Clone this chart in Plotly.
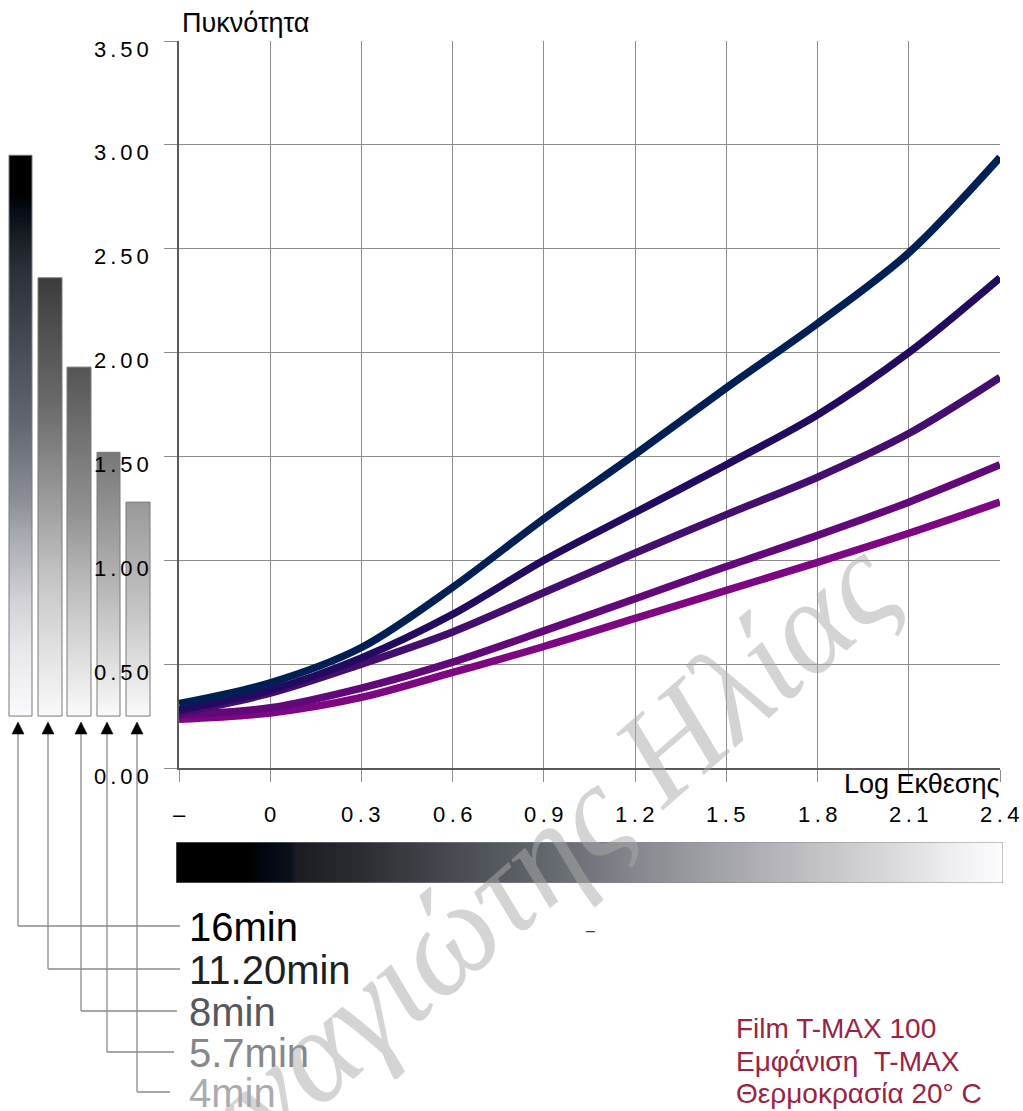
import numpy as np
import plotly.graph_objects as go

# ---------------- data ----------------
log_exposure = [-0.3, 0.0, 0.3, 0.6, 0.9, 1.2, 1.5, 1.8, 2.1, 2.4]
density_16min = [0.31, 0.41, 0.58, 0.87, 1.20, 1.51, 1.83, 2.14, 2.48, 2.94]
density_11_20min = [0.28, 0.375, 0.53, 0.74, 1.00, 1.23, 1.46, 1.70, 2.00, 2.36]
density_8min = [0.265, 0.36, 0.50, 0.655, 0.845, 1.035, 1.22, 1.40, 1.61, 1.88]
density_5_7min = [0.255, 0.29, 0.385, 0.51, 0.66, 0.815, 0.97, 1.12, 1.28, 1.46]
density_4min = [0.235, 0.265, 0.34, 0.46, 0.585, 0.72, 0.855, 0.99, 1.13, 1.28]

times = ["16min", "11.20min", "8min", "5.7min", "4min"]
bar_top = [2.95, 2.36, 1.93, 1.52, 1.28]
bar_bottom = 0.25

x_tick_vals = [-0.3, 0.0, 0.3, 0.6, 0.9, 1.2, 1.5, 1.8, 2.1, 2.4]
x_tick_text = ["–", "0", "0.3", "0.6", "0.9", "1.2", "1.5", "1.8", "2.1", "2.4"]
y_tick_vals = [0.0, 0.5, 1.0, 1.5, 2.0, 2.5, 3.0, 3.5]
y_tick_text = ["0.00", "0.50", "1.00", "1.50", "2.00", "2.50", "3.00", "3.50"]

# ---------------- styling ----------------
W, H = 1023, 1111


def px(x):
    return x / W


def py(y):
    return 1 - y / H


curve_colors = ["#001f55", "#220a60", "#430e6e", "#63087a", "#7e0683"]
label_colors = ["#000000", "#1e1e24", "#55585e", "#85878c", "#a9abaf"]
series = [density_16min, density_11_20min, density_8min, density_5_7min, density_4min]

bar_x = [(9, 32), (38, 62), (67, 91), (97, 120), (126, 150)]
bar_scales = [
    [[0, "#fafafc"], [0.12, "#e8e8ec"], [0.21, "#d0d0d5"], [0.32, "#a8abb2"],
     [0.39, "#8a8d95"], [0.53, "#5f646e"], [0.69, "#40454e"], [0.8, "#2a2e36"],
     [0.86, "#181b22"], [0.9, "#060c16"], [0.93, "#000000"], [1, "#000000"]],
    [[0, "#fafafa"], [0.3, "#c8c8c8"], [0.5, "#9a9a9a"], [0.7, "#6c6c6c"],
     [0.9, "#4c4c4c"], [1, "#3c3c3c"]],
    [[0, "#fafafa"], [0.35, "#c0c0c0"], [0.6, "#8f8f8f"], [1, "#555555"]],
    [[0, "#fafafa"], [0.5, "#b5b5b5"], [1, "#777777"]],
    [[0, "#fafafa"], [0.5, "#c4c4c4"], [1, "#999999"]],
]
arrow_x = [18, 48, 81, 107, 137]
label_line_y = [926, 969, 1011, 1052, 1092]
label_line_end = [180, 180, 177, 174, 170]

grad_scale = [
    [0, "#000000"], [0.0895, "#000000"], [0.104, "#020610"], [0.138, "#0a1019"],
    [0.145, "#1b1c20"], [0.224, "#2b2d32"], [0.334, "#474a51"], [0.444, "#62666d"],
    [0.513, "#767980"], [0.554, "#84878d"], [0.634, "#9c9da3"], [0.755, "#bcbcc1"],
    [0.875, "#dcdce0"], [0.936, "#eeeef1"], [1, "#fdfdfe"],
]

fig = go.Figure()

# curves (draw lowest first)
for i in reversed(range(5)):
    fig.add_trace(go.Scatter(
        x=log_exposure, y=series[i], mode="lines", name=times[i],
        line=dict(color=curve_colors[i], width=7.5, shape="spline", smoothing=0.9),
        xaxis="x", yaxis="y", hoverinfo="skip", cliponaxis=False,
    ))

# gradient density bars on left
N = 200
for i in range(5):
    edges = np.linspace(bar_bottom, bar_top[i], N + 1)
    frac = (np.arange(N) + 0.5) / N
    fig.add_trace(go.Heatmap(
        x=list(bar_x[i]), y=edges, z=[[f] for f in frac],
        colorscale=bar_scales[i], zmin=0, zmax=1, showscale=False,
        xaxis="x2", yaxis="y2", hoverinfo="skip",
    ))

# horizontal exposure gradient
M = 300
gx = np.linspace(0, 1, M + 1)
fig.add_trace(go.Heatmap(
    x=gx, y=[0, 1], z=[list((gx[:-1] + gx[1:]) / 2)],
    colorscale=grad_scale, zmin=0, zmax=1, showscale=False,
    xaxis="x3", yaxis="y3", hoverinfo="skip",
))

shapes = []
for i in range(5):
    shapes.append(dict(type="rect", xref="x2", yref="y2",
                       x0=bar_x[i][0], x1=bar_x[i][1], y0=bar_bottom, y1=bar_top[i],
                       line=dict(color="#7a7a7a", width=1)))
shapes.append(dict(type="rect", xref="x3", yref="y3", x0=0, x1=1, y0=0, y1=1,
                   line=dict(color="#8a8a8a", width=1)))

# connectors + arrowheads
for i in range(5):
    ax = arrow_x[i]
    ly = label_line_y[i]
    shapes.append(dict(type="line", xref="paper", yref="paper",
                       x0=px(ax), x1=px(ax), y0=py(732), y1=py(ly),
                       line=dict(color="#8a8a8a", width=1.3)))
    shapes.append(dict(type="line", xref="paper", yref="paper",
                       x0=px(ax), x1=px(label_line_end[i]), y0=py(ly), y1=py(ly),
                       line=dict(color="#8a8a8a", width=1.3)))
    path = "M {},{} L {},{} L {},{} Z".format(
        px(ax), py(722), px(ax - 6), py(734), px(ax + 6), py(734))
    shapes.append(dict(type="path", xref="paper", yref="paper", path=path,
                       fillcolor="#000000", line=dict(color="#000000", width=0.5)))

annotations = []
tick_font = dict(family="Liberation Sans", size=22, color="#000000")


def spaced(t, sp):
    return '<span style="letter-spacing:{}px">{}</span>'.format(sp, t)


for v, t in zip(y_tick_vals, y_tick_text):
    annotations.append(dict(x=px(155), xref="paper", y=v, yref="y",
                            text=spaced(t, 4),
                            showarrow=False, xanchor="right", yanchor="middle",
                            yshift=-8, font=tick_font))
for v, t in zip(x_tick_vals, x_tick_text):
    annotations.append(dict(x=v, xref="x", y=py(814), yref="paper",
                            text=spaced(t, 4.5), xshift=2,
                            showarrow=False, xanchor="center", yanchor="middle",
                            font=tick_font))

annotations.append(dict(x=px(180), y=py(23), xref="paper", yref="paper",
                        text="Πυκνότητα", showarrow=False, xanchor="left",
                        yanchor="middle",
                        font=dict(family="Liberation Sans", size=27, color="#000")))
annotations.append(dict(x=px(1001), y=py(784), xref="paper", yref="paper",
                        text="Log Εκθεσης", showarrow=False, xanchor="right",
                        yanchor="middle",
                        font=dict(family="Liberation Sans", size=27, color="#000")))

for i in range(5):
    annotations.append(dict(x=px(187), y=py(label_line_y[i] + 1), xref="paper",
                            yref="paper", text=times[i], showarrow=False,
                            xanchor="left", yanchor="middle",
                            font=dict(family="Liberation Sans", size=40,
                                      color=label_colors[i])))

info_lines = ["Film T-MAX 100", "Εμφάνιση  T-MAX", "Θερμοκρασία 20° C"]
info_y = [1028, 1061, 1093]
for t, yy in zip(info_lines, info_y):
    annotations.append(dict(x=px(734), y=py(yy), xref="paper", yref="paper",
                            text=t, showarrow=False, xanchor="left", yanchor="middle",
                            font=dict(family="Liberation Sans", size=28, color="#9b2342")))
annotations.append(dict(x=px(590), y=py(930), xref="paper", yref="paper", text="–",
                        showarrow=False, xanchor="center", yanchor="middle",
                        font=dict(family="Liberation Sans", size=16, color="#7a2030")))

# watermark
annotations.append(dict(x=px(494), y=py(896), xref="paper", yref="paper",
                        text="Παναγιώτης Ηλίας", showarrow=False, textangle=-41,
                        xanchor="center", yanchor="middle",
                        font=dict(family="Liberation Serif", size=135, style="italic",
                                  color="rgba(170,170,170,0.5)")))

fig.update_layout(
    width=W, height=H,
    margin=dict(l=0, r=0, t=0, b=0),
    paper_bgcolor="white", plot_bgcolor="rgba(0,0,0,0)",
    showlegend=False,
    xaxis=dict(domain=[px(179), px(1000)], range=[-0.3, 2.4], tickvals=x_tick_vals,
               showticklabels=False, ticks="outside", ticklen=12, tickcolor="#8c8c8c",
               tickwidth=1.2, showgrid=True, gridcolor="#8c8c8c", gridwidth=1.2,
               showline=True, linecolor="#5a5a5a", linewidth=2, zeroline=False,
               anchor="y"),
    yaxis=dict(domain=[py(768), py(41)], range=[0, 3.5], tickvals=y_tick_vals,
               showticklabels=False, ticks="outside", ticklen=13, tickcolor="#8c8c8c",
               tickwidth=1.2, showgrid=True, gridcolor="#8c8c8c", gridwidth=1.2,
               showline=True, linecolor="#5a5a5a", linewidth=2, zeroline=False,
               anchor="x"),
    xaxis2=dict(domain=[0, px(175)], range=[0, 175], visible=False, anchor="y2"),
    yaxis2=dict(domain=[py(768), py(41)], range=[0, 3.5], visible=False, anchor="x2"),
    xaxis3=dict(domain=[px(176), px(1003)], range=[0, 1], visible=False, anchor="y3"),
    yaxis3=dict(domain=[py(883), py(842)], range=[0, 1], visible=False, anchor="x3"),
    shapes=shapes,
    annotations=annotations,
)

fig.write_html(
    "out.html",
    config={"displayModeBar": False},
    post_script="document.body.style.margin='0px';document.body.style.overflow='hidden';",
)
